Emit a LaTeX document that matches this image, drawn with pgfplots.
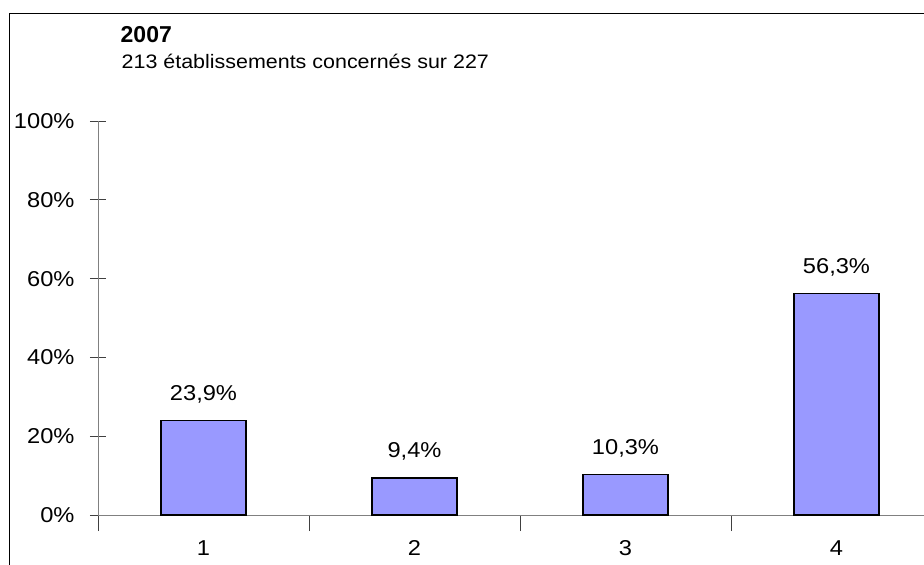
\documentclass[border=0pt]{standalone}
\usepackage{pgfplots}
\pgfplotsset{compat=1.18}
\usepackage{fontspec}
\setmainfont{Liberation Sans}[FakeStretch=1.1]
\newfontfamily\titlefont{Liberation Sans}
\definecolor{barfill}{HTML}{9999FF}
\definecolor{axgray}{HTML}{808080}
\begin{document}
\begin{tikzpicture}[x=1pt,y=1pt]
\path[use as bounding box] (0,0) rectangle (924,-565);
\begin{scope}[overlay]
\clip (0,0) rectangle (924,-565);
\draw[line width=1.3pt] (9.6,-600) -- (9.6,-13.4) -- (960,-13.4);
\node[anchor=base west, inner sep=0pt, font=\titlefont\fontsize{23}{26}\selectfont\bfseries] at (120.5,-42) {2007};
\node[anchor=base west, inner sep=0pt, font=\fontsize{19.5}{23}\selectfont] at (121.5,-68) {213 établissements concernés sur 227};
\begin{axis}[
  at={(98pt,-515pt)}, anchor=south west,
  scale only axis, width=844pt, height=394pt,
  xmin=0.5, xmax=4.5, ymin=0, ymax=100,
  axis lines*=left,
  axis line style={draw=axgray, line width=0.9pt},
  xtick={0.5,1.5,2.5,3.5,4.5}, x tick label as interval, xticklabels={1,2,3,4},
  ytick={0,20,40,60,80,100}, yticklabels={0\%,20\%,40\%,60\%,80\%,100\%},
  tick align=center, major tick length=16pt,
  tick style={draw=black!75, line width=0.8pt},
  ticklabel style={font=\fontsize{21.5}{24}\selectfont},
  yticklabel style={xshift=-12pt},
  xticklabel style={yshift=-6pt},
  ybar, bar width=85pt,
  nodes near coords, point meta=explicit symbolic,
  every node near coord/.append style={font=\fontsize{21.5}{24}\selectfont, anchor=base, yshift=20pt},
  clip=false,
]
\addplot[fill=barfill, draw=black, line width=1.3pt] coordinates {
  (1,23.9) [23,9\%]
  (2,9.4) [9,4\%]
  (3,10.3) [10,3\%]
  (4,56.3) [56,3\%]
};
\end{axis}
\end{scope}
\end{tikzpicture}
\end{document}
